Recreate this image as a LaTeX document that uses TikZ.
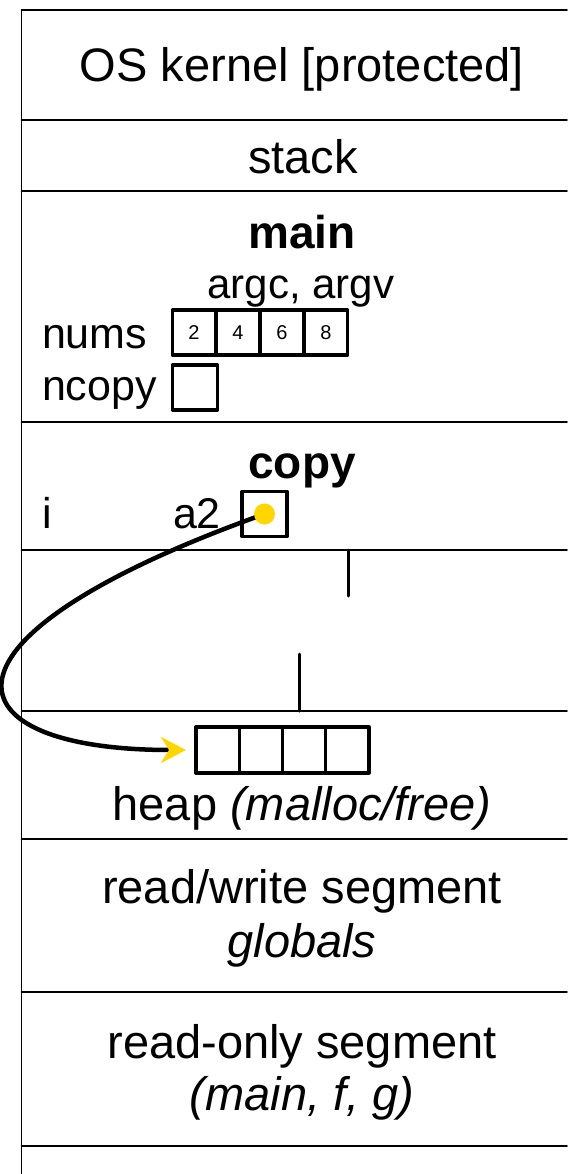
\documentclass[tikz,border=0pt]{standalone}
\usepackage{fontspec}
\setmainfont{Liberation Sans}
\usetikzlibrary{arrows.meta}
\definecolor{ptryellow}{RGB}{255,214,0}
\begin{document}
\begin{tikzpicture}[x=1pt,y=-1pt,line join=round,line cap=round]
	\tikzset{every node/.style={inner sep=0pt,outer sep=0pt},
		seg/.style={font=\fontsize{47}{54}\selectfont,anchor=base},
		segname/.style={font=\fontsize{46}{54}\selectfont\bfseries,anchor=base},
		var/.style={font=\fontsize{43}{48}\selectfont,anchor=base west},
		cell/.style={draw,line width=3.2pt,minimum width=43.7pt,minimum height=45pt,font=\fontsize{20}{22}\selectfont}}
	\useasboundingbox (0,0) rectangle (567,1174);
	% address space
	\draw[line width=1.8pt] (21.5,10)--(21.5,1174);
	\foreach \y in {10,120,191,422,550,711,839,992,1146}
	\draw[line width=1.8pt] (21.5,\y)--(567,\y);
	\node[seg] (kernel) at (302,82) {OS kernel [protected]};
	\node[seg] (stack) at (303,174) {stack};
	% main frame
	\node[segname] (mainfr) at (302,248) {main};
	\node[seg,font=\fontsize{42}{48}\selectfont] (args) at (301,298) {argc, argv};
	\node[var] (nums) at (42,348) {nums};
	\node[var] (ncopy) at (42,400) {ncopy};
	\foreach \x/\n in {194/2,238/4,282/6,326/8}
	\node[cell] (num\n) at (\x,332.5) {\n};
	\node[cell,minimum width=45pt] (ncopybox) at (195,387.5) {};
	% copy frame
	\node[segname] (copyfr) at (302,478) {copy};
	\node[var] (i) at (42,528) {i};
	\node[var] (a2) at (173,528) {a2};
	\node[cell,minimum width=45pt,minimum height=45pt] (a2box) at (264.5,514) {};
	\draw[line width=3pt] (348,550)--(348,596);
	\draw[line width=3pt] (299,654)--(299,711);
	% heap
	\foreach \i/\x in {1/217.6,2/260.9,3/304.1,4/347.4}
	\node[cell,minimum width=43.3pt,minimum height=46pt] (heap\i) at (\x,750) {};
	\draw[line width=4.5pt,shorten >=10pt,-{Stealth[length=25pt,width=26pt,color=ptryellow]}]
		(a2box.center) .. controls +(-350,125) and +(-250,0) .. (heap1.west);
	\node[circle,fill=ptryellow,minimum size=21pt] (a2dot) at (a2box.center) {};
	\node[seg] (heap) at (302,820) {heap \textit{(malloc/free)}};
	% data and code
	\node[seg] (rw) at (302,903) {read/write segment};
	\node[seg] (globals) at (302,957) {\textit{globals}};
	\node[seg] (ro) at (302,1058) {read-only segment};
	\node[seg] (funcs) at (302,1110) {\textit{(main, f, g)}};
\end{tikzpicture}
\end{document}
